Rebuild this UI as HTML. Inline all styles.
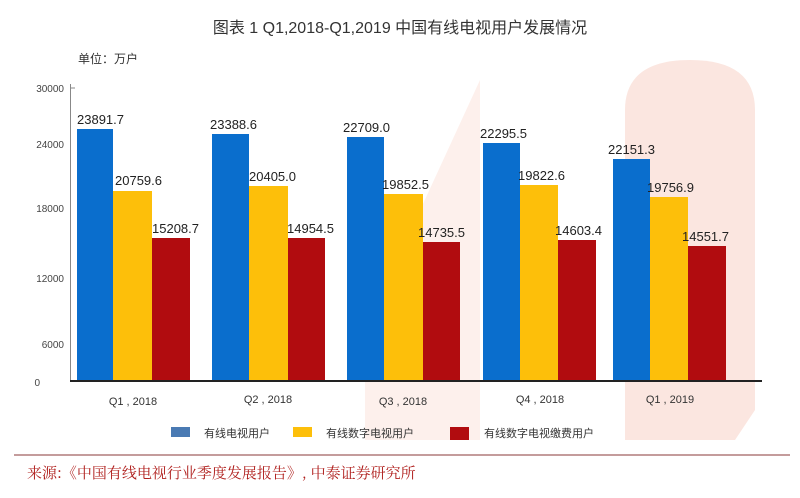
<!DOCTYPE html>
<html><head><meta charset="utf-8"><style>
body{margin:0;background:#fff}
svg text{font-family:"Liberation Sans","Noto Sans CJK SC",sans-serif}
</style></head><body>
<svg width="800" height="493" xmlns="http://www.w3.org/2000/svg">
<rect width="800" height="493" fill="#fff"/>
<path d="M625 440 L625 110 Q625 60 690 60 Q755 60 755 110 L755 410 L735 440 Z" fill="#fbe6e0"/>
<path d="M365 440 L365 330 L480 80 L480 440 Z" fill="#fdf0ec"/>
<text x="400" y="33" font-size="16" text-anchor="middle" fill="#333">图表 1 Q1,2018-Q1,2019 中国有线电视用户发展情况</text>
<text x="78" y="63" font-size="12" fill="#333">单位：万户</text>
<g font-size="10" fill="#444" text-anchor="end">
<text x="64" y="92">30000</text><text x="64" y="148">24000</text><text x="64" y="212">18000</text><text x="64" y="282">12000</text><text x="64" y="348">6000</text><text x="40" y="386">0</text>
</g>
<line x1="70.5" y1="84" x2="70.5" y2="381" stroke="#888"/>
<line x1="70" y1="88" x2="75" y2="88" stroke="#888"/>
<g>
<rect x="77" y="129" width="36" height="252" fill="#0a6ecd"/><rect x="113" y="191" width="39" height="190" fill="#fdbf0a"/><rect x="152" y="238" width="38" height="143" fill="#b10c0f"/>
<rect x="212" y="134" width="37" height="247" fill="#0a6ecd"/><rect x="249" y="186" width="39" height="195" fill="#fdbf0a"/><rect x="288" y="238" width="37" height="143" fill="#b10c0f"/>
<rect x="347" y="137" width="37" height="244" fill="#0a6ecd"/><rect x="384" y="194" width="39" height="187" fill="#fdbf0a"/><rect x="423" y="242" width="37" height="139" fill="#b10c0f"/>
<rect x="483" y="143" width="37" height="238" fill="#0a6ecd"/><rect x="520" y="185" width="38" height="196" fill="#fdbf0a"/><rect x="558" y="240" width="38" height="141" fill="#b10c0f"/>
<rect x="613" y="159" width="37" height="222" fill="#0a6ecd"/><rect x="650" y="197" width="38" height="184" fill="#fdbf0a"/><rect x="688" y="246" width="38" height="135" fill="#b10c0f"/>
</g>
<line x1="70" y1="381" x2="762" y2="381" stroke="#222" stroke-width="2"/>
<g font-size="13" fill="#222">
<text x="77" y="124">23891.7</text><text x="115" y="185">20759.6</text><text x="152" y="233">15208.7</text>
<text x="210" y="129">23388.6</text><text x="249" y="181">20405.0</text><text x="287" y="233">14954.5</text>
<text x="343" y="132">22709.0</text><text x="382" y="189">19852.5</text><text x="418" y="237">14735.5</text>
<text x="480" y="138">22295.5</text><text x="518" y="180">19822.6</text><text x="555" y="235">14603.4</text>
<text x="608" y="154">22151.3</text><text x="647" y="192">19756.9</text><text x="682" y="241">14551.7</text>
</g>
<g font-size="11" fill="#333" text-anchor="middle">
<text x="133" y="405">Q1 , 2018</text><text x="268" y="403">Q2 , 2018</text><text x="403" y="405">Q3 , 2018</text><text x="540" y="403">Q4 , 2018</text><text x="670" y="403">Q1 , 2019</text>
</g>
<g font-size="11" fill="#333">
<rect x="171" y="427" width="19" height="10" fill="#4a7ab3"/><text x="204" y="437">有线电视用户</text>
<rect x="293" y="427" width="19" height="10" fill="#fdbf0a"/><text x="326" y="437">有线数字电视用户</text>
<rect x="450" y="427" width="19" height="13" fill="#b10c0f"/><text x="484" y="437">有线数字电视缴费用户</text>
</g>
<line x1="14" y1="455" x2="790" y2="455" stroke="#a06060" stroke-width="1.2"/>
<text x="27" y="478" font-size="15" fill="#b0201e" style='font-family:"Noto Serif CJK SC","Liberation Serif",serif'>来源:《中国有线电视行业季度发展报告》, 中泰证券研究所</text>
</svg>
</body></html>
